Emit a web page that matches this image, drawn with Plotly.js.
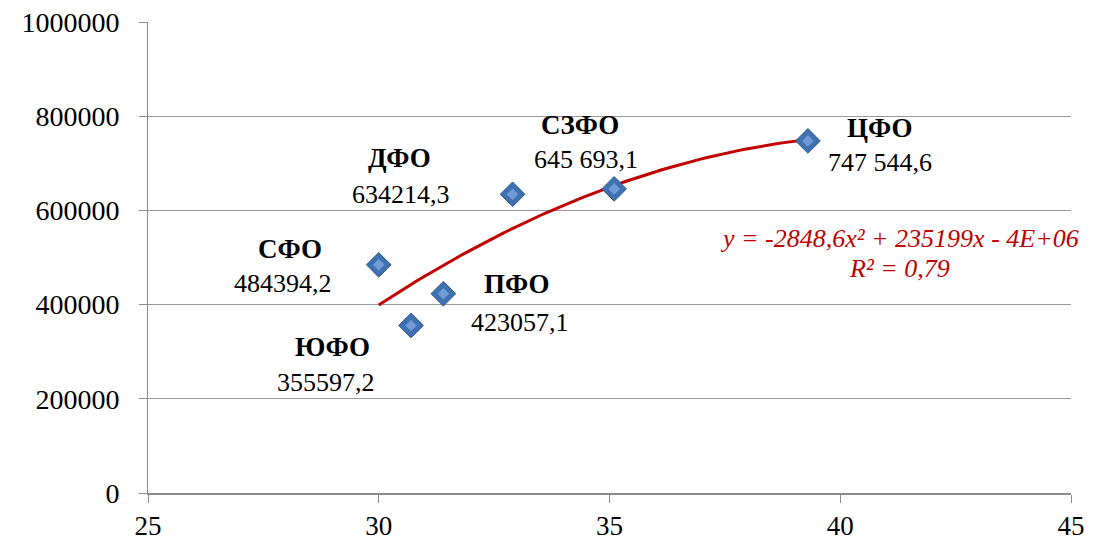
<!DOCTYPE html>
<html>
<head>
<meta charset="utf-8">
<script src="https://cdn.plot.ly/plotly-3.0.1.min.js"></script>
<style>html,body{margin:0;padding:0;background:#fff;}#chart{width:1115px;height:544px;}</style>
</head>
<body>
<div id="chart"></div>
<script>
// ---- data ----
const regions = ["СФО", "ЮФО", "ПФО", "ДФО", "СЗФО", "ЦФО"];
const xValues = [30.0, 30.7, 31.4, 32.9, 35.1, 39.3];
const yValues = [484394.2, 355597.2, 423057.1, 634214.3, 645693.1, 747544.6];
const valueLabels = ["484394,2", "355597,2", "423057,1", "634214,3", "645 693,1", "747 544,6"];
const xTicks = [25, 30, 35, 40, 45];
const yTicks = [0, 200000, 400000, 600000, 800000, 1000000];
const equationText = "y = -2848,6x² + 235199x - 4E+06";
const r2Text = "R² = 0,79";

// ---- label offsets (pixels) : [nameDx, nameDy, valueDx, valueDy] ----
const labelOffsets = [
  [-89, 16, -96, -19],
  [-79, -21, -85, -57],
  [74, 10, 77, -29],
  [-113, 36, -112, 0],
  [-34, 64, -28, 29],
  [72, 13, 72, -22]
];

// ---- quadratic least-squares trendline fitted from the data ----
function quadFit(xs, ys) {
  let S = [0,0,0,0,0], T = [0,0,0];
  for (let i = 0; i < xs.length; i++) {
    const x = xs[i], y = ys[i];
    for (let k = 0; k < 5; k++) S[k] += Math.pow(x, k);
    for (let k = 0; k < 3; k++) T[k] += y * Math.pow(x, k);
  }
  const A = [[S[0],S[1],S[2],T[0]],[S[1],S[2],S[3],T[1]],[S[2],S[3],S[4],T[2]]];
  for (let i = 0; i < 3; i++) {
    let p = i;
    for (let r = i+1; r < 3; r++) if (Math.abs(A[r][i]) > Math.abs(A[p][i])) p = r;
    [A[i], A[p]] = [A[p], A[i]];
    for (let r = 0; r < 3; r++) {
      if (r === i) continue;
      const f = A[r][i] / A[i][i];
      for (let c = i; c < 4; c++) A[r][c] -= f * A[i][c];
    }
  }
  return [A[0][3]/A[0][0], A[1][3]/A[1][1], A[2][3]/A[2][2]]; // c0, c1, c2
}
const coef = quadFit(xValues, yValues);
const xMin = Math.min(...xValues), xMax = Math.max(...xValues);
const trendX = [], trendY = [];
for (let i = 0; i <= 100; i++) {
  const x = xMin + (xMax - xMin) * i / 100;
  trendX.push(x);
  trendY.push(coef[0] + coef[1]*x + coef[2]*x*x);
}

const serif = '"Times New Roman", "Liberation Serif", Tinos, "DejaVu Serif", serif';

const traces = [
  {
    x: trendX, y: trendY, type: 'scatter', mode: 'lines',
    line: {color: '#c00000', width: 3}, hoverinfo: 'skip', showlegend: false
  },
  {
    x: xValues, y: yValues, type: 'scatter', mode: 'markers',
    marker: {symbol: 'diamond', size: 19, color: '#3f70b0', line: {color: '#2f5a8f', width: 1}},
    showlegend: false, text: regions
  },
  {
    x: xValues, y: yValues, type: 'scatter', mode: 'markers',
    marker: {symbol: 'diamond', size: 9, color: '#6f9bd6', line: {width: 0}},
    showlegend: false, hoverinfo: 'skip'
  }
];

const annotations = [];
regions.forEach((name, i) => {
  const o = labelOffsets[i];
  annotations.push({
    x: xValues[i], y: yValues[i], xref: 'x', yref: 'y', showarrow: false,
    xanchor: 'center', yanchor: 'middle',
    text: '<b>' + name + '</b>', xshift: o[0], yshift: o[1],
    font: {family: serif, size: 27, color: '#000'}
  });
  annotations.push({
    x: xValues[i], y: yValues[i], xref: 'x', yref: 'y', showarrow: false,
    xanchor: 'center', yanchor: 'middle',
    text: valueLabels[i], xshift: o[2], yshift: o[3],
    font: {family: serif, size: 26, color: '#000'}
  });
});
annotations.push({
  xref: 'paper', yref: 'paper', x: 0.8137, y: 0.5414, showarrow: false,
  xanchor: 'center', yanchor: 'middle',
  text: '<i>' + equationText + '</i>', font: {family: serif, size: 26, color: '#c00000'}
});
annotations.push({
  xref: 'paper', yref: 'paper', x: 0.8137, y: 0.4777, showarrow: false,
  xanchor: 'center', yanchor: 'middle',
  text: '<i>' + r2Text + '</i>', font: {family: serif, size: 26, color: '#c00000'}
});

const layout = {
  width: 1115, height: 544,
  margin: {l: 148, r: 44, t: 22, b: 51, pad: 0},
  paper_bgcolor: '#fff', plot_bgcolor: '#fff',
  showlegend: false,
  font: {family: serif},
  xaxis: {
    range: [25, 45], tickmode: 'array', tickvals: xTicks, ticktext: xTicks.map(String),
    showgrid: false, zeroline: false, showline: true, linecolor: '#8c8c8c', linewidth: 2,
    ticks: 'outside', ticklen: 8, tickcolor: '#8c8c8c', tickwidth: 1,
    ticklabelstandoff: 0,
    tickfont: {family: serif, size: 27, color: '#000'}
  },
  yaxis: {
    range: [0, 1000000], tickmode: 'array', tickvals: yTicks, ticktext: yTicks.map(String),
    showgrid: true, gridcolor: '#999999', gridwidth: 1, zeroline: false,
    showline: true, linecolor: '#8c8c8c', linewidth: 1,
    ticks: 'outside', ticklen: 8, tickcolor: '#8c8c8c', tickwidth: 1,
    ticklabelstandoff: 14,
    tickfont: {family: serif, size: 28, color: '#000'}
  },
  annotations: annotations
};

Plotly.newPlot('chart', traces, layout, {displayModeBar: false, staticPlot: true});
</script>
</body>
</html>
